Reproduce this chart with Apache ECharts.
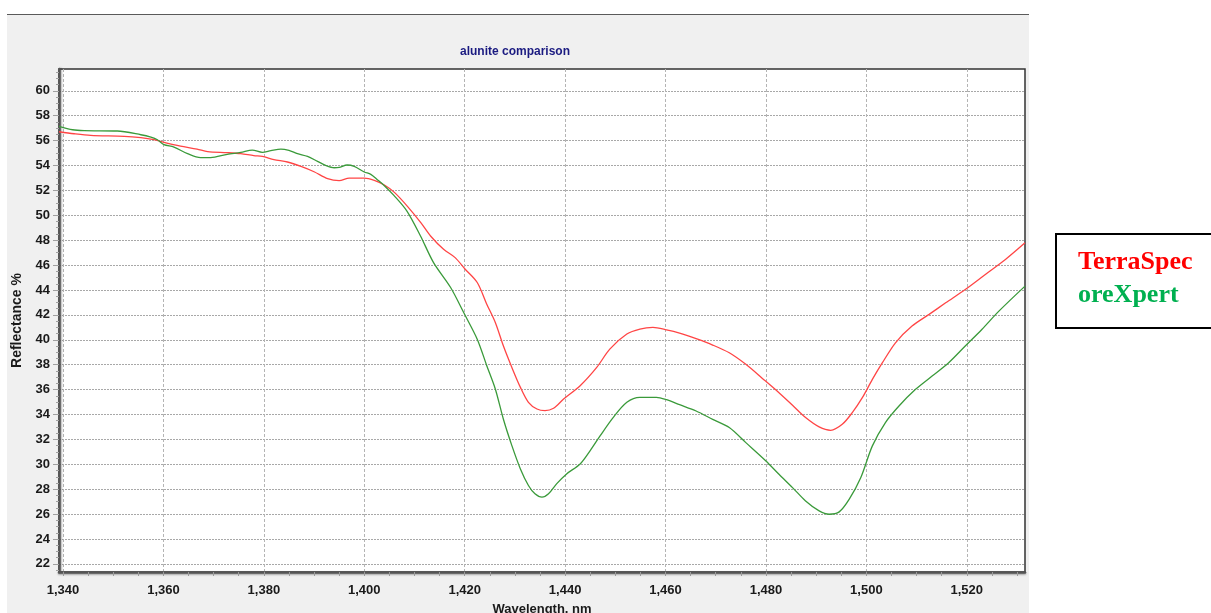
<!DOCTYPE html>
<html>
<head>
<meta charset="utf-8">
<script src="https://cdn.jsdelivr.net/npm/echarts@6/dist/echarts.min.js"></script>
<style>html,body{margin:0;padding:0;background:#fff}#c{width:1211px;height:613px}</style>
</head>
<body>
<div id="c"></div>
<script>
var terraWl = [1339.2,1342.2,1345.5,1352.2,1355.5,1358.1,1360.1,1363.4,1366.7,1368.8,1372.7,1375.4,1378.0,1379.7,1382.0,1384.7,1387.4,1390.0,1392.7,1395.0,1397.0,1400.0,1402.0,1404.0,1406.0,1408.6,1411.3,1413.2,1415.8,1418.1,1420.1,1422.5,1424.4,1426.1,1427.7,1429.4,1431.1,1432.7,1434.4,1436.0,1437.7,1439.7,1443.0,1446.3,1448.9,1452.3,1454.9,1457.5,1460.2,1462.8,1466.1,1469.4,1472.7,1476.0,1479.3,1482.6,1485.3,1487.9,1490.6,1492.9,1495.2,1497.2,1499.2,1501.2,1503.2,1505.8,1509.1,1512.5,1515.8,1519.7,1523.7,1527.7,1531.6];
var terraVal = [56.71,56.55,56.42,56.34,56.23,56.07,55.86,55.56,55.32,55.11,55.03,54.95,54.79,54.73,54.47,54.28,53.93,53.50,52.94,52.78,52.99,52.99,52.81,52.43,51.84,50.72,49.39,48.34,47.27,46.60,45.67,44.60,42.86,41.39,39.52,37.78,36.18,34.98,34.44,34.31,34.50,35.24,36.31,37.78,39.25,40.46,40.86,40.99,40.80,40.54,40.09,39.58,38.96,38.03,36.90,35.75,34.74,33.75,33.00,32.73,33.21,34.15,35.35,36.82,38.16,39.76,41.10,42.04,42.97,44.04,45.25,46.45,47.79];
var oreWl = [1339.2,1341.9,1344.2,1350.8,1355.5,1357.5,1358.8,1360.1,1362.1,1364.8,1367.4,1369.4,1372.7,1375.4,1377.7,1379.7,1381.4,1383.4,1385.0,1386.7,1388.7,1390.7,1392.3,1394.0,1395.0,1396.6,1398.0,1400.0,1401.3,1402.6,1404.0,1405.9,1408.5,1411.2,1413.8,1417.2,1419.8,1422.5,1424.4,1426.1,1427.7,1429.4,1431.1,1432.7,1434.0,1435.4,1436.7,1438.3,1440.3,1443.0,1445.0,1447.0,1449.6,1452.3,1454.9,1458.2,1460.2,1462.8,1466.1,1469.4,1472.7,1476.0,1480.0,1482.6,1485.3,1487.9,1490.6,1492.6,1494.6,1496.6,1498.9,1501.2,1503.8,1506.5,1509.8,1513.1,1516.4,1519.7,1523.0,1526.4,1531.6];
var oreVal = [57.14,56.87,56.80,56.77,56.47,56.28,56.07,55.67,55.48,54.95,54.63,54.63,54.90,55.05,55.24,55.05,55.19,55.32,55.21,54.95,54.73,54.33,54.01,53.82,53.85,54.04,53.93,53.48,53.29,52.86,52.38,51.60,50.34,48.34,46.20,44.20,42.19,40.05,37.92,36.05,33.64,31.50,29.63,28.30,27.63,27.36,27.63,28.43,29.23,30.03,31.10,32.30,33.77,34.98,35.38,35.38,35.19,34.79,34.28,33.61,32.95,31.74,30.27,29.20,28.13,27.06,26.26,25.99,26.18,27.20,28.94,31.48,33.35,34.68,36.02,37.09,38.16,39.50,40.83,42.30,44.31];
var xTicks = [1340,1360,1380,1400,1420,1440,1460,1480,1500,1520];
var xMinorTicks = [1340,1345,1350,1355,1360,1365,1370,1375,1380,1385,1390,1395,1400,1405,1410,1415,1420,1425,1430,1435,1440,1445,1450,1455,1460,1465,1470,1475,1480,1485,1490,1495,1500,1505,1510,1515,1520,1525,1530];
var yTicks = [22,24,26,28,30,32,34,36,38,40,42,44,46,48,50,52,54,56,58,60];
var yMinorTicks = [];
for (var i = 0; i < yTicks.length; i++) { yMinorTicks.push(yTicks[i] - 0.5, yTicks[i], yTicks[i] + 0.5, yTicks[i] + 1); }
yMinorTicks.push(61.5);

function pairs(xs, ys) { var o = []; for (var i = 0; i < xs.length; i++) o.push([xs[i], ys[i]]); return o; }

var chart = echarts.init(document.getElementById('c'), null, {renderer: 'canvas'});
var X_MIN = 1339.2, X_MAX = 1531.6, Y_MIN = 21.35, Y_MAX = 61.75;
var lblFont = {fontFamily: 'Liberation Sans', fontWeight: 'bold', fontSize: 13, color: '#1a1a1a'};
chart.setOption({
  animation: false,
  backgroundColor: '#ffffff',
  graphic: [
    {type: 'rect', z: -100, shape: {x: 7, y: 14, width: 1022, height: 600}, style: {fill: '#f0f0f0'}},
    {type: 'line', z: -99, shape: {x1: 7, y1: 14.5, x2: 1029, y2: 14.5}, style: {stroke: '#5a5a5a', lineWidth: 1}},
    {type: 'rect', shape: {x: 1056, y: 234, width: 170, height: 94}, style: {fill: '#ffffff', stroke: '#000000', lineWidth: 2}},
    {type: 'text', x: 1078, y: 262, style: {text: 'TerraSpec', fill: '#ff0000', font: 'bold 26px "Liberation Serif"', verticalAlign: 'middle'}},
    {type: 'text', x: 1078, y: 295, style: {text: 'oreXpert', fill: '#00b050', font: 'bold 26px "Liberation Serif"', verticalAlign: 'middle'}}
  ],
  title: {
    text: 'alunite comparison', left: 455, top: 41,
    textStyle: {fontFamily: 'Liberation Sans', fontWeight: 'bold', fontSize: 12, color: '#1a1a80'}
  },
  grid: {left: 59, right: 186, top: 69, bottom: 41, show: true, outerBoundsMode: 'none', containLabel: false, backgroundColor: '#ffffff', borderColor: '#333333', borderWidth: 1.5},
  xAxis: [
    {
      type: 'value', min: X_MIN, max: X_MAX, position: 'bottom',
      name: 'Wavelength, nm', nameLocation: 'middle', nameGap: 31,
      nameTextStyle: {fontFamily: 'Liberation Sans', fontWeight: 'bold', fontSize: 13, color: '#1a1a1a', verticalAlign: 'top'},
      axisLine: {show: true, lineStyle: {color: '#555555', width: 2.5, shadowColor: 'rgba(0,0,0,0.35)', shadowBlur: 2, shadowOffsetY: 1}},
      axisTick: {show: false, customValues: xTicks},
      axisLabel: Object.assign({customValues: xTicks, margin: 12, formatter: function (v) { return String(v).replace(/(\d)(\d{3})$/, '$1,$2'); }}, lblFont),
      splitLine: {show: true, lineStyle: {color: '#b4b4b4', type: [3, 2], width: 1}}
    },
    {
      type: 'value', min: X_MIN, max: X_MAX, position: 'bottom',
      axisLine: {show: false}, axisLabel: {show: false}, splitLine: {show: false},
      axisTick: {show: true, customValues: xMinorTicks, length: 4, lineStyle: {color: '#9a9a9a'}}
    }
  ],
  yAxis: [
    {
      type: 'value', min: Y_MIN, max: Y_MAX, position: 'left',
      name: 'Reflectance %', nameLocation: 'middle', nameGap: 30, nameRotate: 90,
      nameTextStyle: {fontFamily: 'Liberation Sans', fontWeight: 'bold', fontSize: 14, color: '#1a1a1a'},
      axisLine: {show: true, lineStyle: {color: '#555555', width: 2.5, shadowColor: 'rgba(0,0,0,0.35)', shadowBlur: 2, shadowOffsetX: 1}},
      axisTick: {show: true, customValues: yTicks, length: 6, lineStyle: {color: '#a0a0a0'}},
      axisLabel: Object.assign({customValues: yTicks, margin: 9}, lblFont),
      splitLine: {show: true, lineStyle: {color: '#a8a8a8', type: [2, 1], width: 1}}
    },
    {
      type: 'value', min: Y_MIN, max: Y_MAX, position: 'left',
      axisLine: {show: false}, axisLabel: {show: false}, splitLine: {show: false},
      axisTick: {show: true, customValues: yMinorTicks, length: 3, lineStyle: {color: '#a0a0a0'}}
    }
  ],
  series: [
    {name: 'TerraSpec', type: 'line', xAxisIndex: 0, yAxisIndex: 0, data: pairs(terraWl, terraVal), smooth: 0.3, showSymbol: false, symbol: 'none', lineStyle: {color: '#ff4545', width: 1.3}, z: 3},
    {name: 'oreXpert', type: 'line', xAxisIndex: 0, yAxisIndex: 0, data: pairs(oreWl, oreVal), smooth: 0.3, showSymbol: false, symbol: 'none', lineStyle: {color: '#3a9a3a', width: 1.3}, z: 4}
  ]
});
</script>
</body>
</html>
